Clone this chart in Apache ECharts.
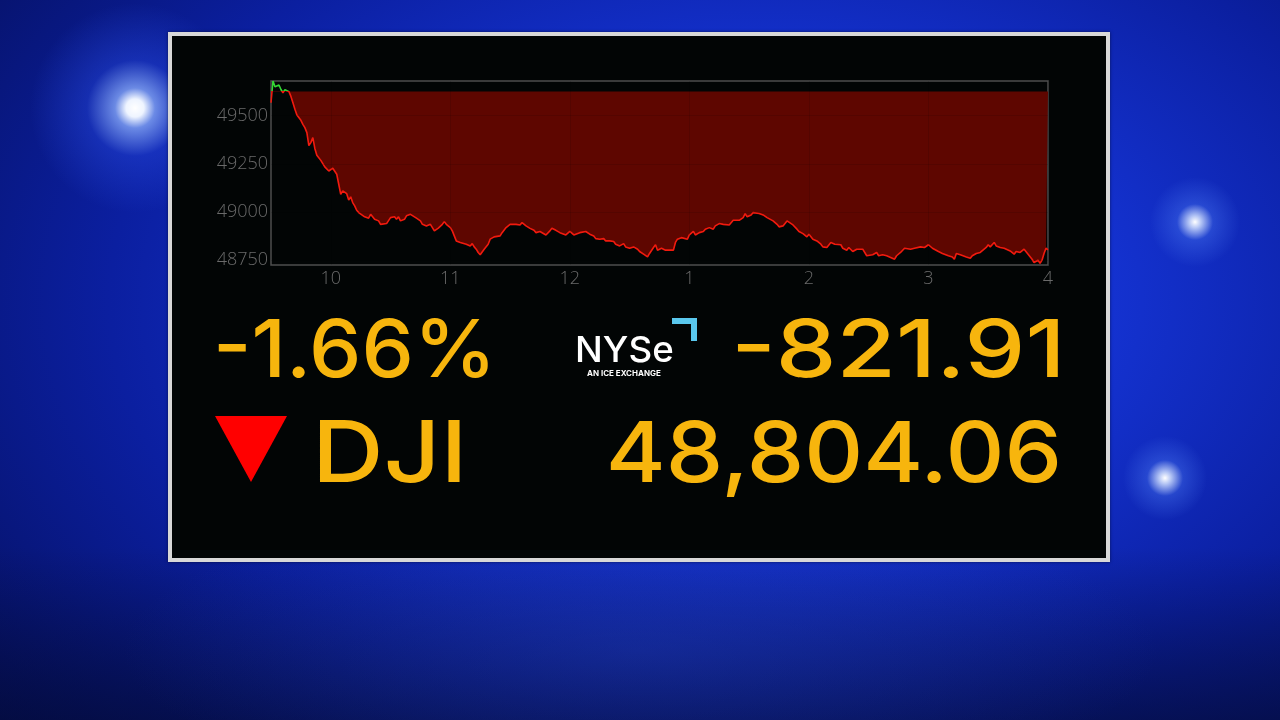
<!DOCTYPE html>
<html><head><meta charset="utf-8">
<script src="https://cdn.jsdelivr.net/npm/echarts@6/dist/echarts.min.js"></script>
<style>
html,body{margin:0;padding:0;width:1280px;height:720px;overflow:hidden;background:#0a1c98;}
#bg{position:absolute;left:0;top:0;width:1280px;height:720px;
background:
 radial-gradient(circle at 135px 108px, #ffffff 0px, #eef4ff 9px, rgba(140,175,255,0.75) 20px, rgba(50,90,255,0.3) 48px, rgba(0,0,0,0) 105px),
 radial-gradient(circle at 1195px 222px, #ffffff 0px, rgba(210,225,255,0.85) 6px, rgba(90,140,255,0.3) 18px, rgba(0,0,0,0) 45px),
 radial-gradient(circle at 1165px 478px, #ffffff 0px, rgba(210,225,255,0.85) 6px, rgba(90,140,255,0.3) 18px, rgba(0,0,0,0) 42px),
 radial-gradient(ellipse 520px 150px at 640px 650px, rgba(40,70,190,0.3), rgba(0,0,0,0)),
 linear-gradient(180deg, rgba(0,0,0,0) 0%, rgba(0,0,0,0) 76%, rgba(3,10,50,0.6) 100%),
 radial-gradient(ellipse 1000px 650px at 760px 300px, #1d3ef0 0%, #1432d0 35%, #0b1fa0 65%, #050f5c 100%);}
#panel{position:absolute;left:168px;top:32px;width:942px;height:530px;box-sizing:border-box;border:4px solid #d8d8d8;background:#020505;box-shadow:0 0 3px rgba(0,0,0,0.5);}
#chart{position:absolute;left:0;top:0;width:1280px;height:720px;}
</style></head><body>
<div id="bg"></div><div id="panel"></div><div id="chart"></div>
<script>
// minutes after 9:30 open
const minutes = [0,1,2,3,4,5,6,7,8,9,10,11,12,13,14,15,16,17,18,19,20,21,22,23,24,25,26,27,28,29,30,31,32,33,34,35,36,37,38,39,40,41,42,43,44,45,47,48,49,50,51,52,54,55,56,58,59,60,62,63,64,65,66,67,68,70,71,73,75,76,78,80,81,82,84,85,86,87,88,90,91,92,93,95,96,98,100,101,102,103,104,105,106,107,109,110,112,113,115,116,118,120,121,123,125,126,128,130,132,133,135,138,140,141,143,145,146,148,150,152,153,155,158,160,162,163,165,167,168,170,172,173,175,177,178,180,182,184,185,187,189,190,192,193,194,196,198,199,200,202,203,204,206,207,209,210,212,213,215,217,218,220,222,223,225,227,228,230,232,233,235,237,238,239,241,242,243,245,246,247,249,250,252,254,255,257,259,260,262,264,265,267,269,270,272,274,276,277,279,280,281,283,284,286,287,289,290,292,294,295,297,299,300,302,304,305,307,309,310,313,314,316,318,319,321,323,324,326,328,330,332,333,335,337,338,340,342,343,344,346,347,349,351,352,354,356,357,359,360,361,363,364,366,368,369,371,373,374,376,378,379,380,382,383,385,386,387,388,389,390];
const prices = [49567,49680,49650,49640,49659,49636,49619,49635,49645,49625,49600,49567,49533,49503,49498,49476,49455,49438,49412,49345,49360,49386,49330,49295,49296,49268,49251,49234,49227,49213,49205,49227,49230,49196,49144,49092,49110,49113,49095,49062,49079,49049,49032,49009,48997,48988,48975,48968,48968,48988,48992,48962,48954,48936,48942,48940,48950,48971,48975,48962,48975,48954,48945,48962,48980,48988,48985,48968,48954,48936,48928,48936,48928,48902,48916,48919,48936,48950,48936,48919,48902,48876,48850,48842,48836,48833,48824,48836,48819,48807,48790,48778,48785,48807,48833,48859,48871,48871,48876,48893,48919,48936,48933,48936,48933,48945,48928,48915,48905,48893,48899,48881,48902,48916,48905,48893,48885,48881,48899,48881,48885,48893,48899,48885,48876,48862,48859,48862,48850,48850,48847,48833,48824,48836,48819,48812,48819,48807,48795,48781,48767,48785,48816,48830,48802,48812,48802,48807,48802,48802,48842,48859,48867,48876,48859,48881,48899,48881,48893,48899,48911,48919,48911,48928,48940,48936,48928,48933,48957,48957,48957,48971,48992,48975,48985,48997,49002,48992,49002,48985,48971,48962,48954,48936,48923,48928,48954,48945,48933,48911,48899,48888,48871,48885,48859,48850,48833,48819,48816,48824,48842,48833,48836,48830,48812,48802,48816,48795,48807,48812,48807,48773,48781,48778,48790,48773,48778,48773,48767,48755,48773,48790,48812,48802,48807,48812,48802,48819,48816,48830,48812,48802,48795,48785,48778,48773,48767,48755,48785,48778,48778,48767,48760,48773,48785,48790,48795,48816,48830,48819,48842,48824,48816,48812,48802,48798,48781,48795,48790,48807,48816,48781,48755,48738,48750,48733,48750,48785,48812,48804];
const prevClose = 49625.97;
const yTicks = [48750, 49000, 49250, 49500];
const xTickMinutes = [30, 90, 150, 210, 270, 330, 390];
const xTickLabels = ['10', '11', '12', '1', '2', '3', '4'];
const pctText = '-1.66%';
const chgText = '-821.91';
const symbolText = 'DJI';
const lastText = '48,804.06';
const logoText = 'NYSe';
const logoSub = 'AN ICE EXCHANGE';

const seriesData = minutes.map((m, i) => [m, prices[i]]);
const gridLines = xTickMinutes.map(v => ({xAxis: v})).concat(yTicks.map(v => ({yAxis: v})));

// place a text so that its ink fills a box [left, right, capTop, capBottom]
const mctx = document.createElement('canvas').getContext('2d');
function fitText(text, font, box, fill, refChar) {
  mctx.font = font; mctx.textBaseline = 'middle'; mctx.textAlign = 'left';
  const m = mctx.measureText(text);
  const r = mctx.measureText(refChar || '0');
  const sx = (box[1] - box[0]) / (m.actualBoundingBoxLeft + m.actualBoundingBoxRight);
  const sy = (box[3] - box[2]) / (r.actualBoundingBoxAscent + r.actualBoundingBoxDescent);
  return {type: 'text', z: 10, x: box[0] + m.actualBoundingBoxLeft * sx, y: box[2] + r.actualBoundingBoxAscent * sy,
    scaleX: sx, scaleY: sy, style: {text: text, font: font, fill: fill, align: 'left', verticalAlign: 'middle'}};
}

const chart = echarts.init(document.getElementById('chart'), null, {renderer: 'canvas'});
const ORANGE = '#f7b50d';
const FONT1 = '500 83px Inter';
const FONT2 = '500 87px Inter';
const texts = [
    fitText(pctText, FONT1, [218, 488, 318, 378], ORANGE),
    fitText(chgText, FONT1, [737, 1058, 318, 378], ORANGE),
    fitText(symbolText, FONT2, [320, 460, 420, 482], ORANGE, 'D'),
    fitText(lastText, FONT2, [610, 1058, 420, 483], ORANGE),
    fitText(logoText, '500 37px Inter', [577, 673, 336, 362], '#ffffff', 'N'),
    fitText(logoSub, '700 8px Inter', [587, 661, 370, 376], '#ffffff', 'A')];
const option = {
  animation: false,
  backgroundColor: 'transparent',
  grid: {left: 271, top: 81, width: 777, height: 184, show: true, borderColor: '#4e4e4e', borderWidth: 1.5, backgroundColor: 'transparent', containLabel: false},
  xAxis: {type: 'value', min: 0, max: 390,
    axisLine: {show: false}, axisTick: {show: false}, splitLine: {show: false},
    axisLabel: {customValues: xTickMinutes, formatter: v => xTickLabels[xTickMinutes.indexOf(v)], color: '#6a6a6a', fontSize: 18, fontWeight: 300, margin: 5, fontFamily: 'Open Sans'}},
  yAxis: {type: 'value', min: 48725, max: 49680,
    axisLine: {show: false}, axisTick: {show: false}, splitLine: {show: false},
    axisLabel: {customValues: yTicks, formatter: v => String(v), color: '#6a6a6a', fontSize: 18, fontWeight: 300, margin: 3, fontFamily: 'Open Sans'}},
  series: [{
    type: 'line', data: seriesData, symbol: 'none', showSymbol: false,
    lineStyle: {width: 1.6, color: '#f21a0e'},
    areaStyle: {origin: prevClose, color: '#5e0600', opacity: 1},
    markLine: {silent: true, symbol: 'none', label: {show: false},
      lineStyle: {color: 'rgba(0,0,0,0.1)', width: 1, type: 'solid'}, data: gridLines}
  }],
  graphic: texts.concat([
    {type: 'polygon', z: 10, shape: {points: [[215, 416], [287, 416], [251, 482]]}, style: {fill: '#ff0000'}},
    {type: 'polygon', z: 10, shape: {points: [[672, 318], [697, 318], [697, 341], [691, 341], [691, 324], [672, 324]]}, style: {fill: '#5ac8ee'}}
  ])
};
chart.setOption(option);
const yPc = chart.convertToPixel({yAxisIndex: 0}, prevClose);
const f = yPc / 720;
chart.setOption({series: [{
  lineStyle: {color: new echarts.graphic.LinearGradient(0, 0, 0, 720, [
    {offset: 0, color: '#34d834'}, {offset: f, color: '#34d834'}, {offset: f, color: '#f21a0e'}, {offset: 1, color: '#f21a0e'}], true)},
  areaStyle: {color: new echarts.graphic.LinearGradient(0, 0, 0, 720, [
    {offset: 0, color: 'rgba(0,0,0,0)'}, {offset: f, color: 'rgba(0,0,0,0)'},
    {offset: f, color: '#5e0600'}, {offset: 1, color: '#5e0600'}], true)}}]});
</script>
</body></html>
